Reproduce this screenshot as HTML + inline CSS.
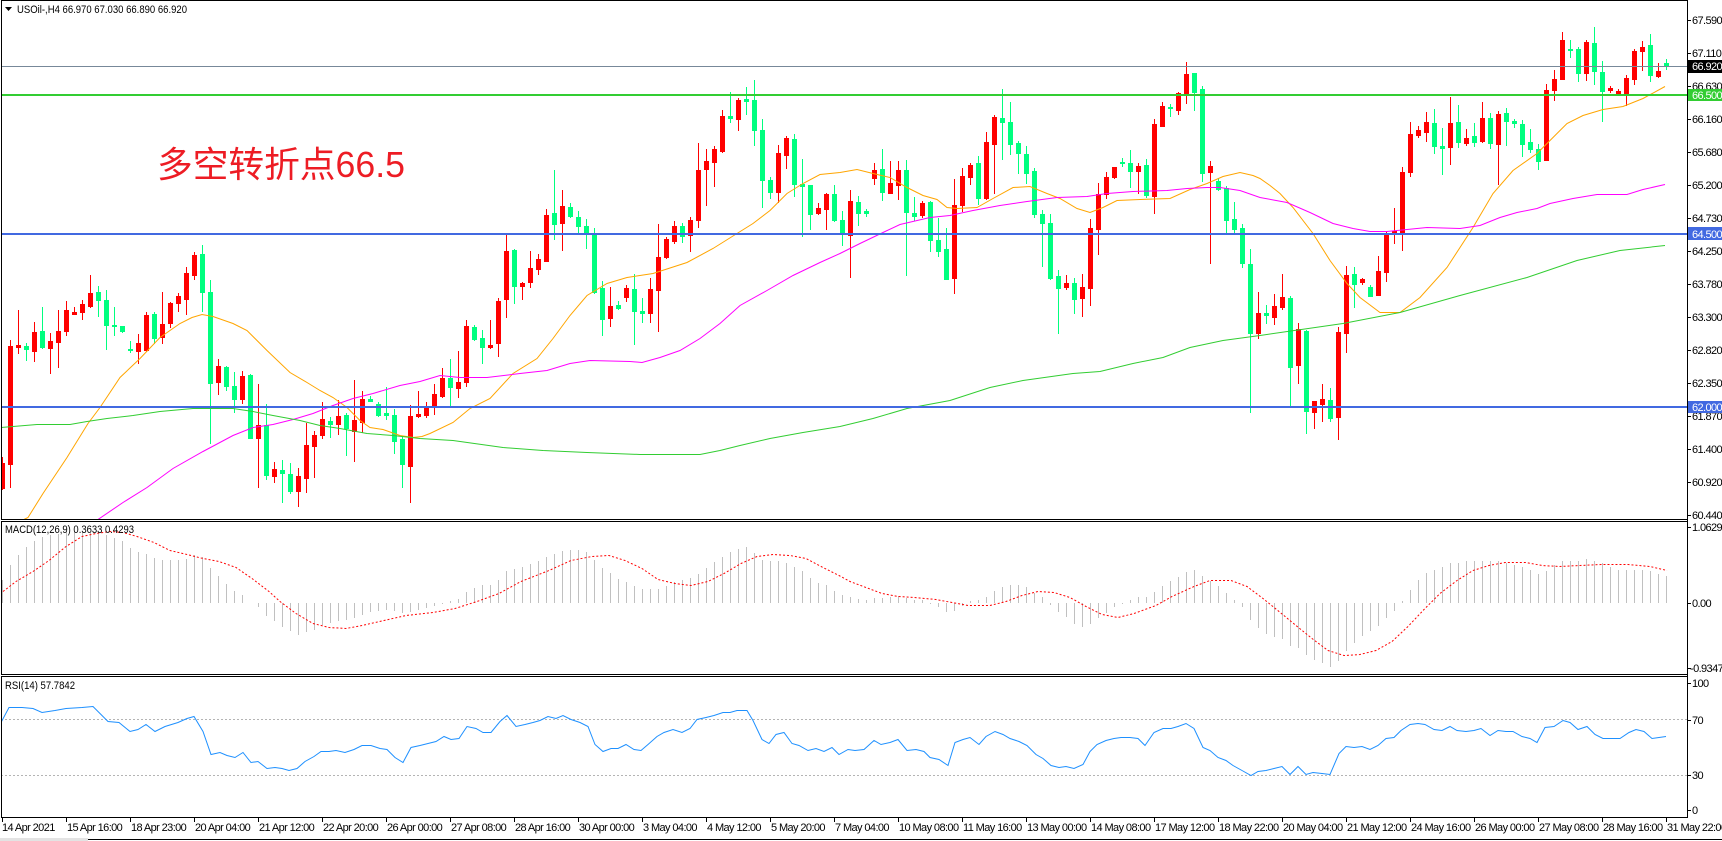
<!DOCTYPE html>
<html><head><meta charset="utf-8">
<style>
html,body{margin:0;padding:0;background:#fff;}
svg{display:block;}
text{font-family:"Liberation Sans","Noto Sans CJK SC",sans-serif;fill:#000;}
.ax{font-size:11px;letter-spacing:-0.6px;}
.dt{font-size:11px;letter-spacing:-0.6px;}
</style></head><body>
<svg id="c" width="1722" height="841" viewBox="0 0 1722 841" xmlns="http://www.w3.org/2000/svg">
<defs>
<clipPath id="cm"><rect x="1" y="1" width="1686" height="518"/></clipPath>
<clipPath id="cd"><rect x="1" y="522" width="1686" height="152"/></clipPath>
<clipPath id="cr"><rect x="1" y="677" width="1686" height="140"/></clipPath>
</defs>
<rect width="1722" height="841" fill="#fff"/>

<!-- main panel contents -->
<g clip-path="url(#cm)">
  <g id="candles" shape-rendering="crispEdges"></g>
  <g id="mas" fill="none" stroke-width="1"></g>
  <g shape-rendering="crispEdges">
    <rect x="1" y="66" width="1686" height="1" fill="#778899"/>
    <rect x="1" y="94" width="1686" height="2" fill="#32CD32"/>
    <rect x="1" y="233" width="1686" height="2" fill="#4169E1"/>
    <rect x="1" y="406" width="1686" height="2" fill="#4169E1"/>
  </g>
</g>
<g id="macd" clip-path="url(#cd)"></g>
<g id="rsi" clip-path="url(#cr)">
  <line x1="1" y1="719.5" x2="1687" y2="719.5" stroke="#b4b4b4" stroke-dasharray="2 2"/>
  <line x1="1" y1="775.5" x2="1687" y2="775.5" stroke="#b4b4b4" stroke-dasharray="2 2"/>
</g>

<!-- frames -->
<g shape-rendering="crispEdges" fill="#000">
  <rect x="1" y="0" width="1687" height="1"/>
  <rect x="1" y="0" width="1" height="520"/>
  <rect x="1" y="519" width="1687" height="1"/>
  <rect x="1" y="521" width="1687" height="1"/>
  <rect x="1" y="521" width="1" height="154"/>
  <rect x="1" y="674" width="1687" height="1"/>
  <rect x="1" y="676" width="1687" height="1"/>
  <rect x="1" y="676" width="1" height="142"/>
  <rect x="1" y="817" width="1687" height="1"/>
  <rect x="1687" y="0" width="1" height="818"/>
  <rect x="0" y="838" width="88" height="3" fill="#e3e3e3"/>
  <rect x="88" y="839" width="1634" height="1" fill="#000"/>
</g>
<g id="ticks" shape-rendering="crispEdges" fill="#000"></g>

<!-- title & annotation -->
<polygon points="5,7 12,7 8.5,11" fill="#000"/>
<text x="17" y="13" font-size="11" textLength="170" lengthAdjust="spacingAndGlyphs">USOil-,H4  66.970 67.030 66.890 66.920</text>
<text x="157" y="177" font-size="36" fill="#ED1C24" style="fill:#ED1C24" textLength="248" lengthAdjust="spacingAndGlyphs">多空转折点66.5</text>
<text x="5" y="533" font-size="11" textLength="129" lengthAdjust="spacingAndGlyphs">MACD(12,26,9) 0.3633 0.4293</text>
<text x="5" y="689" font-size="11" textLength="70" lengthAdjust="spacingAndGlyphs">RSI(14) 57.7842</text>

<!-- price axis -->
<g class="ax">
<text x="1692" y="24">67.590</text>
<text x="1692" y="57">67.110</text>
<text x="1692" y="90">66.630</text>
<text x="1692" y="123">66.160</text>
<text x="1692" y="156">65.680</text>
<text x="1692" y="189">65.200</text>
<text x="1692" y="222">64.730</text>
<text x="1692" y="255">64.250</text>
<text x="1692" y="288">63.780</text>
<text x="1692" y="321">63.300</text>
<text x="1692" y="354">62.820</text>
<text x="1692" y="387">62.350</text>
<text x="1692" y="420">61.870</text>
<text x="1692" y="453">61.400</text>
<text x="1692" y="486">60.920</text>
<text x="1692" y="519">60.440</text>
</g>
<g shape-rendering="crispEdges">
<rect x="1688" y="60" width="34" height="13" fill="#000"/>
<rect x="1688" y="89" width="34" height="12" fill="#32CD32"/>
<rect x="1688" y="227" width="34" height="13" fill="#4169E1"/>
<rect x="1688" y="401" width="34" height="12" fill="#4169E1"/>
</g>
<g class="ax">
<text x="1692" y="70" style="fill:#fff">66.920</text>
<text x="1692" y="99" style="fill:#fff">66.500</text>
<text x="1692" y="238" style="fill:#fff">64.500</text>
<text x="1692" y="411" style="fill:#fff">62.000</text>
<text x="1692" y="531">1.0629</text>
<text x="1692" y="607">0.00</text>
<text x="1690" y="672">-0.9347</text>
<text x="1692" y="687">100</text>
<text x="1692" y="724">70</text>
<text x="1692" y="779">30</text>
<text x="1692" y="814">0</text>
</g>

<!-- date axis -->
<g class="dt">
<text x="2" y="831">14 Apr 2021</text>
<text x="67" y="831">15 Apr 16:00</text>
<text x="131" y="831">18 Apr 23:00</text>
<text x="195" y="831">20 Apr 04:00</text>
<text x="259" y="831">21 Apr 12:00</text>
<text x="323" y="831">22 Apr 20:00</text>
<text x="387" y="831">26 Apr 00:00</text>
<text x="451" y="831">27 Apr 08:00</text>
<text x="515" y="831">28 Apr 16:00</text>
<text x="579" y="831">30 Apr 00:00</text>
<text x="643" y="831">3 May 04:00</text>
<text x="707" y="831">4 May 12:00</text>
<text x="771" y="831">5 May 20:00</text>
<text x="835" y="831">7 May 04:00</text>
<text x="899" y="831">10 May 08:00</text>
<text x="963" y="831">11 May 16:00</text>
<text x="1027" y="831">13 May 00:00</text>
<text x="1091" y="831">14 May 08:00</text>
<text x="1155" y="831">17 May 12:00</text>
<text x="1219" y="831">18 May 22:00</text>
<text x="1283" y="831">20 May 04:00</text>
<text x="1347" y="831">21 May 12:00</text>
<text x="1411" y="831">24 May 16:00</text>
<text x="1475" y="831">26 May 00:00</text>
<text x="1539" y="831">27 May 08:00</text>
<text x="1603" y="831">28 May 16:00</text>
<text x="1667" y="831">31 May 22:00</text>
</g>
</svg>
<script>
(function(){
var NS='http://www.w3.org/2000/svg';
function el(t,a,p){var e=document.createElementNS(NS,t);for(var k in a)e.setAttribute(k,a[k]);p.appendChild(e);return e;}
var C=[[457,489,463,488,'r'],[340,487,346,464,'r'],[310,353,345,347,'r'],[343,360,346,349,'g'],[322,361,332,351,'r'],[307,348,331,347,'g'],[333,373,341,348,'r'],[310,367,331,342,'r'],[301,335,310,331,'r'],[307,314,312,314,'r'],
[300,319,304,312,'r'],[275,307,293,306,'r'],[286,316,292,300,'g'],[290,349,300,325,'g'],[307,335,325,326,'g'],[326,332,326,331,'g'],[341,352,349,350,'g'],[334,363,343,351,'r'],[312,351,315,350,'r'],[312,343,314,338,'g'],
[292,343,324,337,'r'],[302,327,303,323,'r'],[293,311,296,303,'r'],[267,314,273,299,'r'],[252,279,255,275,'r'],[245,311,254,292,'g'],[280,443,292,383,'g'],[359,394,366,382,'r'],[366,390,367,386,'g'],[372,412,386,399,'g'],
[371,403,376,399,'r'],[374,438,375,438,'g'],[384,487,425,438,'r'],[404,479,425,475,'g'],[462,482,469,476,'r'],[460,502,470,473,'g'],[463,493,474,491,'g'],[468,506,476,491,'r'],[423,492,445,478,'r'],[431,477,435,446,'r'],
[402,438,419,435,'r'],[417,437,421,424,'g'],[400,434,416,424,'r'],[413,455,415,428,'g'],[380,461,420,431,'r'],[391,432,399,422,'r'],[396,401,399,401,'g'],[402,416,404,415,'g'],[387,419,413,415,'g'],[409,453,415,441,'g'],
[437,487,439,464,'g'],[405,502,416,466,'r'],[391,417,414,416,'r'],[402,417,406,415,'r'],[384,414,394,405,'r'],[368,397,378,396,'r'],[359,406,378,387,'g'],[351,397,382,388,'r'],[320,386,326,382,'r'],[325,340,327,339,'g'],
[330,363,338,347,'g'],[320,348,345,347,'r'],[298,356,301,343,'r'],[235,317,251,299,'r'],[249,303,250,286,'g'],[282,299,283,286,'r'],[251,287,268,282,'r'],[254,274,259,269,'r'],[209,261,215,261,'r'],[170,239,213,224,'g'],
[190,250,206,223,'r'],[203,217,207,216,'g'],[211,233,217,226,'g'],[219,248,226,233,'g'],[228,293,233,292,'g'],[281,335,288,319,'g'],[287,326,306,318,'r'],[301,309,305,308,'g'],[285,301,288,297,'r'],[274,344,289,311,'g'],
[298,322,311,313,'g'],[278,322,289,313,'r'],[224,331,257,290,'r'],[237,258,239,257,'r'],[221,243,226,241,'r'],[223,242,226,236,'g'],[217,251,220,235,'r'],[143,227,170,220,'r'],[149,205,161,169,'r'],[146,186,149,162,'r'],
[110,152,116,151,'r'],[92,122,116,118,'g'],[98,130,100,119,'r'],[87,114,99,101,'g'],[80,145,100,130,'g'],[119,207,130,180,'g'],[177,198,180,192,'g'],[145,202,153,192,'r'],[136,168,138,155,'r'],[134,196,139,184,'g'],
[159,236,184,186,'g'],[185,229,185,214,'g'],[203,214,208,213,'r'],[193,229,194,209,'r'],[185,221,194,220,'g'],[211,245,220,234,'g'],[190,277,201,235,'r'],[196,225,202,213,'g'],[209,216,211,213,'g'],[163,184,170,178,'r'],
[149,200,169,192,'g'],[161,193,183,193,'r'],[161,199,170,185,'r'],[160,275,170,212,'g'],[197,220,213,216,'g'],[201,217,203,215,'r'],[201,251,202,240,'g'],[218,256,240,251,'g'],[228,279,249,279,'g'],[179,293,205,278,'r'],
[168,211,176,205,'r'],[163,184,165,177,'r'],[156,204,163,198,'g'],[132,199,142,198,'r'],[115,193,117,144,'r'],[89,159,118,122,'g'],[102,154,122,144,'g'],[141,173,143,153,'g'],[146,183,154,173,'g'],[168,217,171,214,'g'],
[210,266,214,223,'g'],[214,279,223,278,'g'],[270,333,276,288,'g'],[275,289,283,287,'r'],[278,313,283,299,'g'],[274,316,287,298,'r'],[219,305,228,288,'r'],[183,254,194,229,'r'],[172,198,177,194,'r'],[167,178,167,177,'r'],
[158,166,162,163,'g'],[150,187,163,171,'g'],[163,193,166,171,'r'],[159,197,165,195,'g'],[119,213,124,196,'r'],[102,126,106,126,'r'],[104,116,107,108,'g'],[92,114,93,110,'r'],[62,103,74,94,'r'],[73,110,73,92,'g'],
[86,181,89,173,'g'],[161,263,166,172,'r'],[178,190,181,189,'g'],[186,233,188,220,'g'],[202,232,219,229,'g'],[224,267,228,263,'g'],[249,412,264,333,'g'],[292,338,313,333,'r'],[305,323,313,315,'g'],[294,324,306,317,'r'],
[274,309,297,307,'r'],[296,406,298,367,'g'],[323,383,329,365,'r'],[330,433,331,411,'g'],[401,428,401,412,'r'],[384,421,399,404,'r'],[388,421,400,418,'g'],[327,439,332,417,'r'],[266,352,275,333,'r'],[267,307,274,284,'g'],
[278,284,279,282,'r'],[285,296,287,296,'g'],[256,295,271,295,'r'],[231,281,234,272,'r'],[208,243,231,233,'r'],[167,250,172,232,'r'],[122,176,134,172,'r'],[126,137,130,135,'r'],[112,141,122,132,'r'],[109,153,123,146,'g'],
[128,174,146,148,'g'],[97,164,123,147,'r'],[105,147,122,142,'g'],[129,145,138,143,'r'],[123,146,136,142,'g'],[102,142,118,141,'r'],[113,148,118,143,'g'],[111,184,114,144,'r'],[108,145,113,121,'g'],[119,127,121,123,'g'],
[120,156,124,144,'g'],[129,152,142,149,'g'],[144,169,149,161,'g'],[84,160,90,160,'r'],[70,100,79,90,'r'],[32,79,40,79,'r'],[40,57,49,50,'g'],[47,81,49,73,'g'],[40,80,42,73,'r'],[27,84,43,71,'g'],
[61,121,72,91,'g'],[86,92,88,90,'r'],[89,94,91,93,'r'],[75,105,78,93,'r'],[49,84,51,79,'r'],[41,70,47,51,'r'],[34,81,45,75,'g'],[63,77,71,76,'r'],[59,69,63,66,'g']];
var pr='',pg='';
for(var i=0;i<C.length;i++){var c=C[i],x=2+8*i,h=c[0],l=c[1],t=c[2],b=c[3];
 var d='M'+x+' '+h+'h1v'+(l-h+1)+'h-1zM'+(x-2)+' '+t+'h5v'+(b-t+1)+'h-5z';
 if(c[4]=='r')pr+=d;else pg+=d;}
var cg=document.getElementById('candles');
el('path',{d:pr,fill:'#ff0000'},cg);el('path',{d:pg,fill:'#00ff7f'},cg);

function pl(pts,col,parent,extra){var s='';for(var j=0;j<pts.length;j+=2)s+=(pts[j])+','+(pts[j+1]+0.5)+' ';var a={points:s,fill:'none',stroke:col,'stroke-width':1};if(extra)for(var k in extra)a[k]=extra[k];return el('polyline',a,parent);}
var mg=document.getElementById('mas');
pl([1,530,28,517,43,493,67,457,88,423,100,407,120,377,140,358,160,337,180,323,192,317,202,314,213,316,233,323,247,330,267,350,290,372,307,382,320,390,333,397,347,407,360,420,370,427,383,429,400,435,413,437,422,436,430,433,453,422,470,408,490,398,513,373,537,358,553,338,570,315,587,295,607,283,627,277,653,273,687,262,713,248,737,233,753,223,770,210,787,193,803,183,820,174,840,172,857,169,873,173,890,177,907,187,923,195,937,199,947,207,957,208,977,207,993,198,1013,187,1030,186,1047,193,1060,198,1077,208,1090,212,1103,207,1117,200,1140,199,1170,198,1190,189,1207,183,1223,176,1240,172,1253,175,1260,178,1270,185,1280,193,1293,207,1313,233,1330,260,1347,283,1360,297,1380,312,1400,312,1420,297,1447,267,1473,227,1493,193,1513,170,1537,153,1550,140,1567,123,1583,115,1603,109,1623,106,1643,98,1665,86],'#FFA500',mg);
pl([90,525,98,519,123,502,147,487,173,468,203,451,233,435,253,427,273,424,293,419,313,413,333,405,353,398,373,393,400,385,420,381,440,375,460,377,487,377,520,373,547,370,570,363,590,360,630,361,642,362,660,357,680,350,700,338,720,323,740,305,767,290,793,275,820,262,840,253,860,243,883,232,900,224,930,217,950,215,973,210,1000,205,1027,201,1057,197,1087,196,1107,193,1133,191,1167,190,1187,188,1207,187,1220,187,1240,190,1260,197,1287,202,1310,212,1333,223,1353,228,1370,231,1387,231,1407,229,1427,227,1460,228,1480,225,1500,217,1517,212,1537,208,1550,203,1573,198,1597,194,1627,194,1643,189,1665,184],'#FF00FF',mg);
pl([1,427,37,424,70,424,87,421,107,418,133,415,160,411,193,408,233,408,253,411,273,415,300,420,320,425,340,428,367,433,393,435,420,438,453,440,503,447,543,450,587,452,640,454,700,454,720,450,740,445,770,438,803,432,840,426,873,418,907,408,950,400,990,387,1023,380,1073,373,1100,371,1133,363,1163,357,1190,347,1223,340,1260,335,1343,323,1400,312,1460,295,1527,277,1577,260,1620,250,1665,245],'#32CD32',mg);

// MACD
var H=[580,565,555,547,541,537,535,534,532,531,532,533,532,535,538,541,548,552,554,558,560,560,560,559,555,557,568,576,584,591,595,603,607,616,621,627,631,635,632,630,625,623,621,620,618,615,612,611,610,611,613,612,610,608,606,604,601,599,592,588,585,585,580,571,569,567,564,561,557,554,551,550,550,552,560,568,573,579,582,586,589,589,589,586,582,580,578,574,568,562,557,552,549,547,553,560,561,561,563,567,571,578,583,585,591,595,597,599,600,598,598,597,596,598,600,600,604,607,612,611,606,601,600,597,591,587,585,585,587,593,597,605,612,617,624,627,624,618,613,607,604,600,597,597,592,586,581,577,572,570,576,581,586,593,600,607,620,628,634,637,639,646,648,655,660,663,667,661,651,643,636,631,626,618,611,601,590,580,573,570,567,563,563,561,561,561,561,561,563,565,567,570,574,571,565,561,561,561,559,561,563,567,570,570,570,570,571,574,576];
var md=document.getElementById('macd');var hp='';var Z=603;
for(var i=0;i<H.length;i++){var x=2+8*i,v=H[i];if(v<Z)hp+='M'+x+' '+v+'h1v'+(Z-v)+'h-1z';else if(v>Z)hp+='M'+x+' '+Z+'h1v'+(v-Z)+'h-1z';}
el('path',{d:hp,fill:'#c0c0c0','shape-rendering':'crispEdges'},md);
pl([3,591,16,581,33,571,49,560,66,546,82,536,96,533,110,531,123,532,137,536,154,542,170,550,187,554,203,558,219,561,236,567,252,578,269,591,280,601,296,613,313,623,329,627,346,628,362,625,384,620,406,615,433,612,455,608,477,601,499,593,521,581,549,570,571,560,592,556,609,555,625,560,642,568,658,579,675,583,691,585,708,581,724,573,741,563,757,556,773,554,790,555,806,558,823,567,839,575,850,581,866,587,882,593,898,596,914,597,936,599,952,602,968,605,990,605,1006,601,1022,595,1038,591,1054,592,1070,597,1086,606,1102,614,1118,617,1134,613,1156,605,1172,596,1194,586,1210,580,1231,580,1247,586,1263,598,1279,611,1296,625,1312,638,1328,650,1344,655,1360,654,1376,650,1392,641,1408,626,1424,609,1440,593,1457,580,1473,570,1489,565,1505,562,1526,562,1542,565,1559,566,1580,565,1601,564,1628,564,1650,566,1667,570],'#ff0000',md,{'stroke-dasharray':'2 2'});

// RSI
var rg=document.getElementById('rsi');
pl([1,722,9,707,22,707,33,708,42,712,55,710,66,708,82,707,93,706,108,721,119,722,130,731,138,729,146,724,155,731,165,726,178,722,187,718,194,716,203,731,211,754,220,752,227,755,235,757,243,752,251,762,258,761,267,768,275,767,282,768,289,770,297,768,305,761,314,756,321,751,329,751,336,750,345,752,354,749,362,745,371,745,380,748,387,749,395,757,403,762,411,747,420,745,428,743,436,741,444,736,451,739,459,738,467,726,476,728,483,732,491,732,500,721,507,715,516,726,525,724,533,722,540,720,548,716,556,718,563,715,571,719,580,722,588,726,595,744,603,751,611,748,618,748,626,744,634,749,641,750,648,744,657,736,664,732,673,729,682,732,690,728,697,719,706,717,714,715,723,712,730,712,737,710,747,710,753,720,762,739,769,743,776,734,784,732,792,743,799,745,808,750,816,748,824,751,832,747,839,754,848,749,855,750,864,749,874,740,881,744,890,742,898,739,907,750,916,749,924,751,930,757,939,759,948,765,955,742,963,739,970,737,979,744,986,736,995,731,1003,734,1010,738,1019,741,1027,745,1036,754,1043,758,1051,765,1059,767,1066,766,1074,768,1083,764,1090,751,1097,744,1106,740,1114,738,1121,737,1130,737,1138,738,1145,745,1154,732,1163,728,1171,728,1178,726,1186,723,1194,728,1203,747,1210,750,1218,757,1226,760,1233,765,1242,770,1251,775,1258,771,1266,770,1274,768,1282,766,1290,774,1298,766,1306,774,1313,772,1322,773,1330,774,1339,753,1346,746,1354,747,1362,746,1370,749,1378,745,1386,738,1394,737,1401,730,1410,724,1418,723,1425,724,1434,729,1442,730,1450,726,1457,730,1466,731,1474,730,1481,728,1490,735,1498,730,1506,731,1513,731,1522,736,1530,738,1537,742,1545,727,1554,726,1563,720,1570,722,1578,729,1587,726,1595,734,1603,738,1612,738,1620,738,1629,732,1636,729,1644,731,1652,738,1659,737,1666,736],'#1E90FF',rg);

// ticks
var tg=document.getElementById('ticks');var tp='';
var ys=[20,53,86,119,152,185,218,251,284,317,350,383,416,449,482,515,527,603,668,683,720,775,810];
for(var i=0;i<ys.length;i++)tp+='M1688 '+ys[i]+'h3v1h-3z';
for(var k=0;k<27;k++)tp+='M'+(2+64*k)+' 818h1v4h-1z';
el('path',{d:tp},tg);
})();
</script>
</body></html>
